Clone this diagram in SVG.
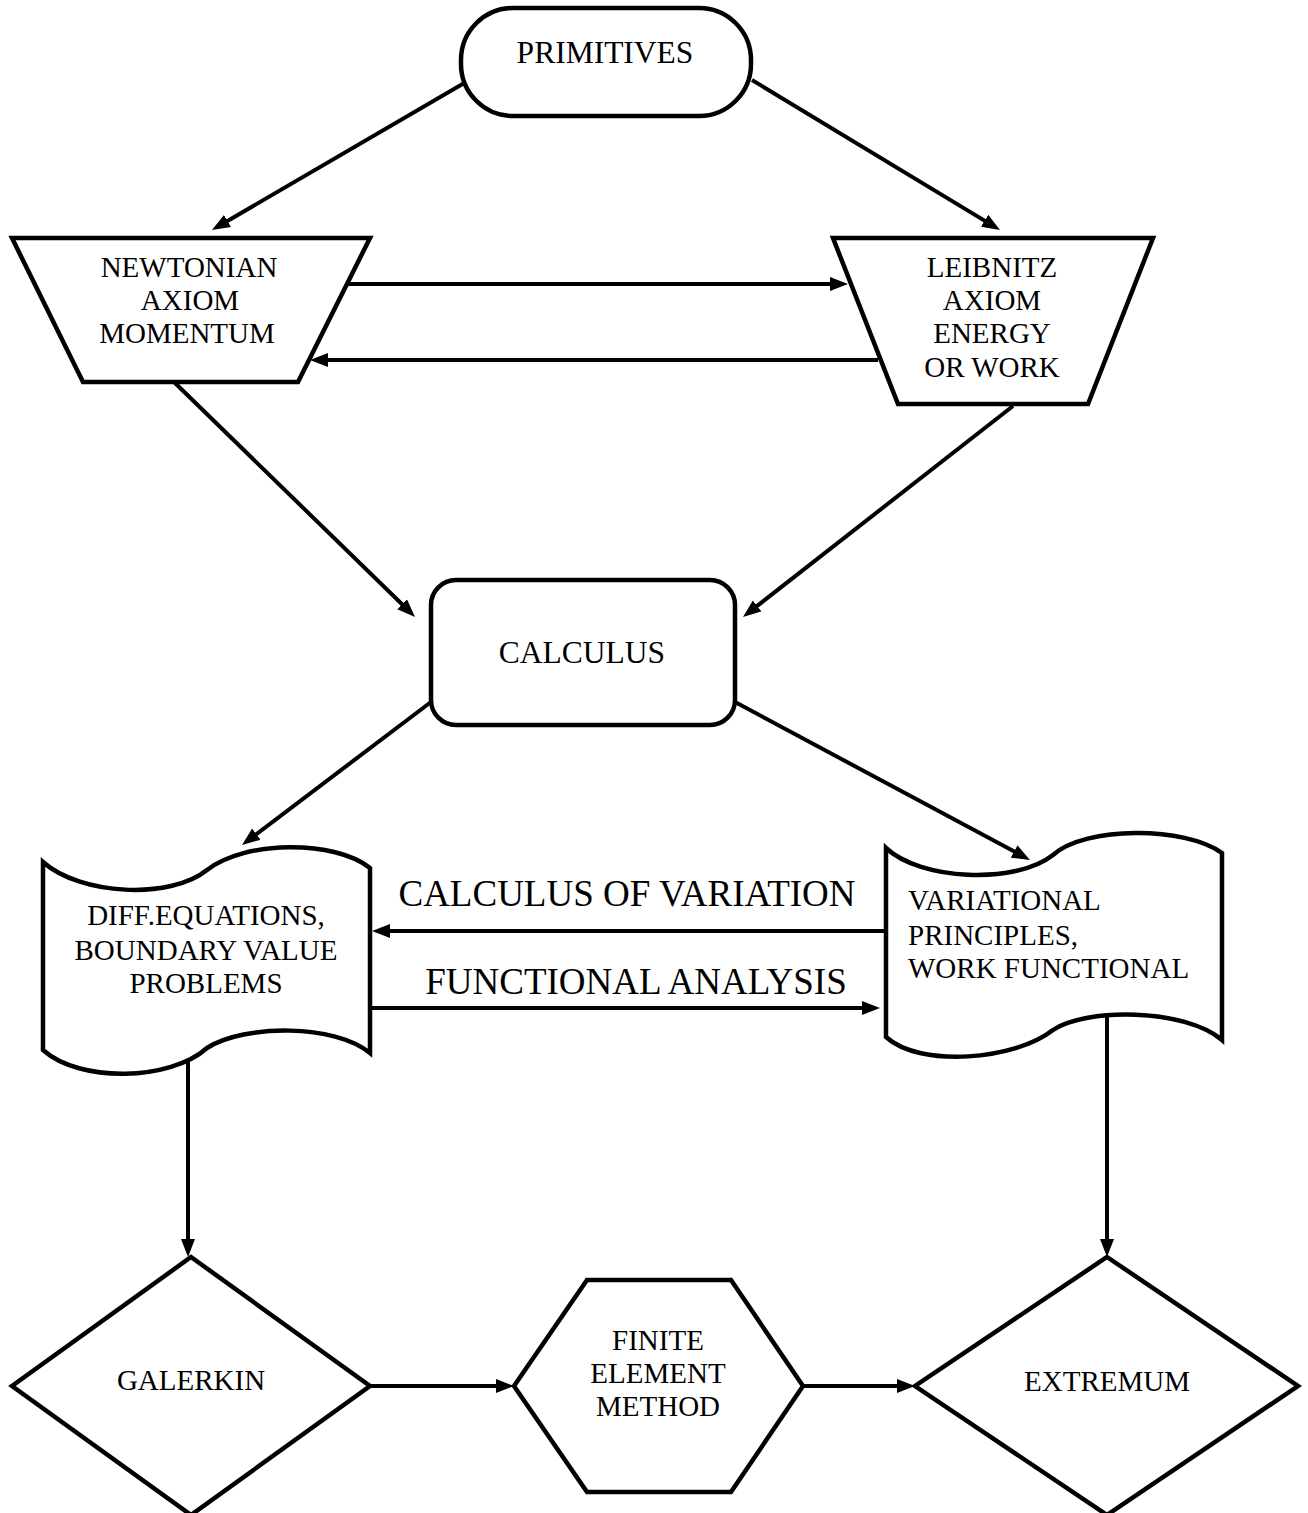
<svg xmlns="http://www.w3.org/2000/svg" width="1308" height="1513" viewBox="0 0 1308 1513">
<defs>
<marker id="arr" markerUnits="userSpaceOnUse" markerWidth="19" markerHeight="15" refX="11" refY="7" orient="auto">
<path d="M0,0 L18,7 L0,14 Z" fill="#000"/>
</marker>
<style>
.shape{fill:#fff;stroke:#000;stroke-width:4.5;stroke-linejoin:miter}
.conn{fill:none;stroke:#000;stroke-width:4;marker-end:url(#arr)}
text{font-family:"Liberation Serif","Times New Roman",serif;fill:#000;text-anchor:middle}
.t29{font-size:29px}
.t31{font-size:31.5px}
.t37{font-size:37px}
</style>
</defs>
<rect width="1308" height="1513" fill="#fff"/>
<g id="connectors">
<line class="conn" x1="466" y1="82" x2="218" y2="226.5"/>
<line class="conn" x1="752" y1="80" x2="994" y2="226.4"/>
<line class="conn" x1="348" y1="284" x2="841" y2="284"/>
<line class="conn" x1="878" y1="360" x2="317" y2="360"/>
<line class="conn" x1="174" y1="382" x2="410" y2="612"/>
<line class="conn" x1="1013" y1="406" x2="748.5" y2="612.7"/>
<line class="conn" x1="431" y1="702" x2="247.6" y2="840.8"/>
<line class="conn" x1="735" y1="702" x2="1023.8" y2="856.7"/>
<line class="conn" x1="886" y1="931" x2="379" y2="931"/>
<line class="conn" x1="371" y1="1008" x2="873" y2="1008"/>
<line class="conn" x1="188" y1="1062" x2="188" y2="1250"/>
<line class="conn" x1="1107" y1="1015" x2="1107" y2="1250"/>
<line class="conn" x1="370" y1="1386" x2="507" y2="1386"/>
<line class="conn" x1="803" y1="1386" x2="908" y2="1386"/>
</g>
<g id="primitives">
<rect class="shape" x="461" y="8" width="290" height="108" rx="52" ry="52"/>
<text class="t31" x="605" y="63">PRIMITIVES</text>
</g>
<g id="newtonian">
<polygon class="shape" points="12,238 370,238 298,382 83,382"/>
<text class="t29" x="189" y="277">NEWTONIAN</text>
<text class="t29" x="190" y="310">AXIOM</text>
<text class="t29" x="187" y="343">MOMENTUM</text>
</g>
<g id="leibnitz">
<polygon class="shape" points="833,238 1153,238 1088,404 898,404"/>
<text class="t29" x="992" y="277">LEIBNITZ</text>
<text class="t29" x="992" y="310">AXIOM</text>
<text class="t29" x="992" y="343">ENERGY</text>
<text class="t29" x="992" y="377">OR WORK</text>
</g>
<g id="calculus">
<rect class="shape" x="431" y="580" width="304" height="145" rx="25" ry="25"/>
<text class="t31" x="582" y="663">CALCULUS</text>
</g>
<g id="diffeq">
<path class="shape" d="M43,862 C80,895 170,900 207,870 C245,840 335,840 370,868 L370,1053 C335,1024 245,1024 207,1048 C170,1081 80,1083 43,1050 Z"/>
<text class="t29" x="206" y="925">DIFF.EQUATIONS,</text>
<text class="t29" x="206" y="960">BOUNDARY VALUE</text>
<text class="t29" x="206" y="993">PROBLEMS</text>
</g>
<g id="variational">
<path class="shape" d="M886,848 C920,880 1015,885 1053,855 C1085,826 1185,826 1222,853 L1222,1040 C1185,1008 1085,1008 1053,1030 C1015,1060 920,1068 886,1037 Z"/>
<text class="t29" x="908" y="910" style="text-anchor:start">VARIATIONAL</text>
<text class="t29" x="908" y="945" style="text-anchor:start">PRINCIPLES,</text>
<text class="t29" x="908" y="978" style="text-anchor:start">WORK FUNCTIONAL</text>
</g>
<g id="labels">
<text class="t37" x="627" y="906">CALCULUS OF VARIATION</text>
<text class="t37" x="636" y="994">FUNCTIONAL ANALYSIS</text>
</g>
<g id="galerkin">
<polygon class="shape" points="191,1257 370,1386 191,1515 12,1386"/>
<text class="t29" x="191" y="1390">GALERKIN</text>
</g>
<g id="fem">
<polygon class="shape" points="514,1386 587,1280 731,1280 803,1386 731,1492 587,1492"/>
<text class="t29" x="658" y="1350">FINITE</text>
<text class="t29" x="658" y="1383">ELEMENT</text>
<text class="t29" x="658" y="1416">METHOD</text>
</g>
<g id="extremum">
<polygon class="shape" points="1107,1257 1298,1386 1107,1515 915,1386"/>
<text class="t29" x="1107" y="1391">EXTREMUM</text>
</g>
</svg>
